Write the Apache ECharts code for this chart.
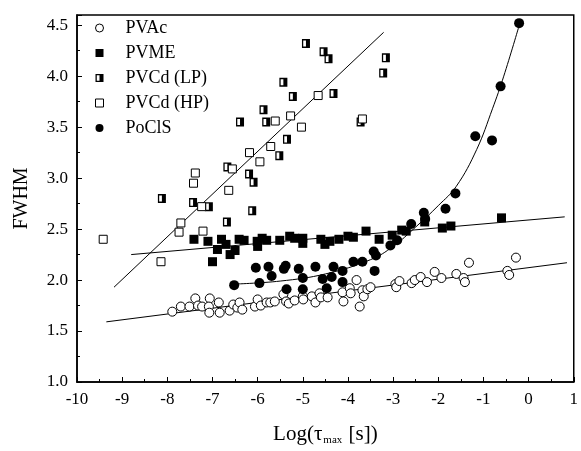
<!DOCTYPE html>
<html><head><meta charset="utf-8">
<script src="https://cdn.jsdelivr.net/npm/echarts@6/dist/echarts.min.js"></script>
<style>html,body{margin:0;padding:0;background:#fff}#c{width:581px;height:451px}</style>
</head><body><div id="c"></div>
<script>
// ---- data (x = Log(tau_max [s]), y = FWHM) ----
const seriesNames = ['PVAc', 'PVME', 'PVCd (LP)', 'PVCd (HP)', 'PoClS'];

const pvac = [[-7.89,1.69],[-7.70,1.74],[-7.51,1.74],[-7.38,1.82],[-7.32,1.75],[-7.23,1.74],[-7.06,1.82],[-7.08,1.74],[-7.07,1.68],[-6.86,1.78],[-6.84,1.68],[-6.62,1.70],[-6.54,1.76],[-6.45,1.73],[-6.40,1.78],[-6.34,1.71],[-6.06,1.74],[-6.00,1.81],[-5.93,1.75],[-5.80,1.78],[-5.72,1.78],[-5.62,1.79],[-5.43,1.86],[-5.37,1.79],[-5.31,1.77],[-5.18,1.80],[-5.00,1.84],[-4.99,1.81],[-4.80,1.84],[-4.72,1.78],[-4.63,1.87],[-4.60,1.83],[-4.45,1.83],[-4.12,1.88],[-4.10,1.79],[-3.96,1.92],[-3.94,1.87],[-3.81,2.00],[-3.74,1.74],[-3.68,1.90],[-3.65,1.84],[-3.57,1.91],[-3.50,1.93],[-2.95,1.96],[-2.93,1.93],[-2.86,1.99],[-2.59,1.97],[-2.52,2.00],[-2.39,2.03],[-2.25,1.98],[-2.08,2.08],[-1.93,2.02],[-1.60,2.06],[-1.44,2.02],[-1.41,1.98],[-1.32,2.17],[-0.47,2.09],[-0.43,2.05],[-0.28,2.22]];

const pvme = [[-7.41,2.40],[-7.10,2.38],[-7.00,2.18],[-6.89,2.30],[-6.80,2.40],[-6.70,2.35],[-6.61,2.25],[-6.50,2.29],[-6.41,2.40],[-6.30,2.39],[-6.01,2.38],[-6.00,2.33],[-5.90,2.41],[-5.80,2.39],[-5.51,2.39],[-5.29,2.43],[-5.18,2.41],[-5.00,2.41],[-5.00,2.36],[-4.60,2.40],[-4.51,2.35],[-4.40,2.38],[-4.20,2.40],[-4.00,2.43],[-3.88,2.42],[-3.60,2.48],[-3.31,2.40],[-3.02,2.44],[-2.81,2.49],[-2.71,2.48],[-2.30,2.57],[-1.91,2.51],[-1.72,2.53],[-0.60,2.61]];

const pvcdLP = [[-8.12,2.80],[-7.43,2.76],[-7.08,2.72],[-6.68,2.57],[-6.67,3.11],[-6.39,3.55],[-6.19,3.04],[-6.12,2.68],[-6.09,2.96],[-5.87,3.67],[-5.81,3.55],[-5.52,3.22],[-5.43,3.94],[-5.35,3.38],[-5.22,3.80],[-4.93,4.32],[-4.54,4.24],[-4.43,4.17],[-4.32,3.83],[-3.72,3.55],[-3.22,4.03],[-3.16,4.18]];

const pvcdHP = [[-9.42,2.40],[-8.14,2.18],[-7.74,2.47],[-7.70,2.56],[-7.42,2.95],[-7.38,3.05],[-7.24,2.72],[-7.21,2.48],[-6.64,2.88],[-6.56,3.09],[-6.18,3.25],[-5.95,3.16],[-5.71,3.31],[-5.61,3.56],[-5.27,3.61],[-5.03,3.50],[-4.66,3.81],[-3.68,3.58]];

const pocls = [[-6.52,1.95],[-6.04,2.12],[-5.96,1.97],[-5.76,2.13],[-5.69,2.04],[-5.42,2.11],[-5.38,2.14],[-5.36,1.91],[-5.09,2.11],[-5.00,2.02],[-5.00,1.91],[-4.72,2.13],[-4.56,2.01],[-4.47,1.92],[-4.36,2.03],[-4.32,2.13],[-4.12,2.09],[-4.12,1.98],[-3.88,2.18],[-3.68,2.18],[-3.43,2.28],[-3.41,2.09],[-3.38,2.24],[-3.06,2.34],[-2.91,2.39],[-2.60,2.55],[-2.32,2.66],[-2.29,2.60],[-1.84,2.70],[-1.62,2.85],[-1.18,3.41],[-0.81,3.37],[-0.62,3.90],[-0.21,4.52]];

// fitted lines / curve
const fitPVAc = [[-9.35,1.59],[0.85,2.17]];
const fitPVME = [[-8.80,2.25],[0.80,2.62]];
const fitPVCd = [[-9.18,1.93],[-3.21,4.43]];
const fitPoClS = [[-6.54,1.96],[-5.5,1.99],[-4.5,2.06],[-3.5,2.20],[-3.0,2.33],[-2.5,2.52],[-2.0,2.73],[-1.6,2.92],[-1.15,3.28],[-0.8,3.68],[-0.55,4.00],[-0.22,4.48]];

// axes
const xMin = -10, xMax = 1, xStep = 1;
const yMin = 1.0, yMax = 4.6, yStep = 0.5;

// ---- chart ----
const FONT = '"Liberation Serif","Times New Roman",serif';
const SQ = 'path://M0,0L10,0L10,10L0,10Z';
const HALF = 'path://M0,0L10,0L10,10L0,10Z M1.6,1.6L1.6,8.4L5,8.4L5,1.6Z';

const chart = echarts.init(document.getElementById('c'), null, {renderer: 'canvas'});

function fitLine(data) {
  return {type: 'line', data: data, symbol: 'none', silent: true, z: 1,
    lineStyle: {color: '#000', width: 1}, itemStyle: {color: '#000'}};
}

const legendData = seriesNames.map(function (n) {
  if (n === 'PVAc' || n === 'PVCd (HP)') {
    return {name: n, itemStyle: {color: '#fff', borderColor: '#000', borderWidth: 1}};
  }
  return {name: n};
});

chart.setOption({
  animation: false,
  backgroundColor: '#fff',
  grid: {left: 77, right: 3, top: 15, bottom: 68, show: true, borderColor: '#000', borderWidth: 1.5, backgroundColor: 'transparent'},
  legend: {
    data: legendData, orient: 'vertical', left: 95, top: 18, padding: 0,
    itemWidth: 8, itemHeight: 8, itemGap: 5,
    textStyle: {fontFamily: FONT, fontSize: 18, color: '#000', lineHeight: 20, padding: [0, 0, 0, 17]},
    selectedMode: false
  },
  xAxis: {
    type: 'value', min: xMin, max: xMax, interval: xStep,
    name: '{a|Log(τ}{b|max}{a| [s])}', nameLocation: 'middle', nameGap: 40,
    nameTextStyle: {verticalAlign: 'top', rich: {
      a: {fontFamily: FONT, fontSize: 21, color: '#000', lineHeight: 24},
      b: {fontFamily: FONT, fontSize: 11, color: '#000', verticalAlign: 'bottom', lineHeight: 24, padding: [9, 1, 0, 1]}
    }},
    axisLine: {show: true, onZero: false, lineStyle: {color: '#000', width: 1.5}},
    axisTick: {show: true, inside: true, length: 5, lineStyle: {color: '#000', width: 1}},
    minorTick: {show: true, splitNumber: 2, length: 3, lineStyle: {color: '#000', width: 1}},
    axisLabel: {fontFamily: FONT, fontSize: 17, color: '#000', margin: 9},
    splitLine: {show: false}
  },
  yAxis: {
    type: 'value', min: yMin, max: yMax, interval: yStep,
    name: 'FWHM', nameLocation: 'middle', nameGap: 45, nameRotate: 90,
    nameTextStyle: {fontFamily: FONT, fontSize: 20, color: '#000'},
    axisLine: {show: true, onZero: false, lineStyle: {color: '#000', width: 1.5}},
    axisTick: {show: true, inside: true, length: 5, lineStyle: {color: '#000', width: 1}},
    minorTick: {show: true, splitNumber: 2, length: 3, lineStyle: {color: '#000', width: 1}},
    axisLabel: {fontFamily: FONT, fontSize: 17, color: '#000', margin: 9, showMaxLabel: false,
      formatter: function (v) { return Math.abs(v * 2 - Math.round(v * 2)) > 1e-6 ? '' : v.toFixed(1); }},
    splitLine: {show: false}
  },
  series: [
    fitLine(fitPVAc), fitLine(fitPVME), fitLine(fitPVCd),
    Object.assign(fitLine(fitPoClS), {smooth: 0.4}),
    {name: 'PVAc', type: 'scatter', data: pvac, symbol: 'circle', symbolSize: 9, z: 3,
      itemStyle: {color: '#fff', borderColor: '#000', borderWidth: 1, opacity: 1}},
    {name: 'PVME', type: 'scatter', data: pvme, symbol: SQ, symbolSize: 9, z: 3,
      itemStyle: {color: '#000', opacity: 1}},
    {name: 'PVCd (LP)', type: 'scatter', data: pvcdLP, symbol: HALF, symbolSize: [8, 9], z: 3,
      itemStyle: {color: '#000', opacity: 1}},
    {name: 'PVCd (HP)', type: 'scatter', data: pvcdHP, symbol: SQ, symbolSize: 8, z: 3,
      itemStyle: {color: '#fff', borderColor: '#000', borderWidth: 1, opacity: 1}},
    {name: 'PoClS', type: 'scatter', data: pocls, symbol: 'circle', symbolSize: 10, z: 3,
      itemStyle: {color: '#000', opacity: 1}}
  ]
});
</script></body></html>
